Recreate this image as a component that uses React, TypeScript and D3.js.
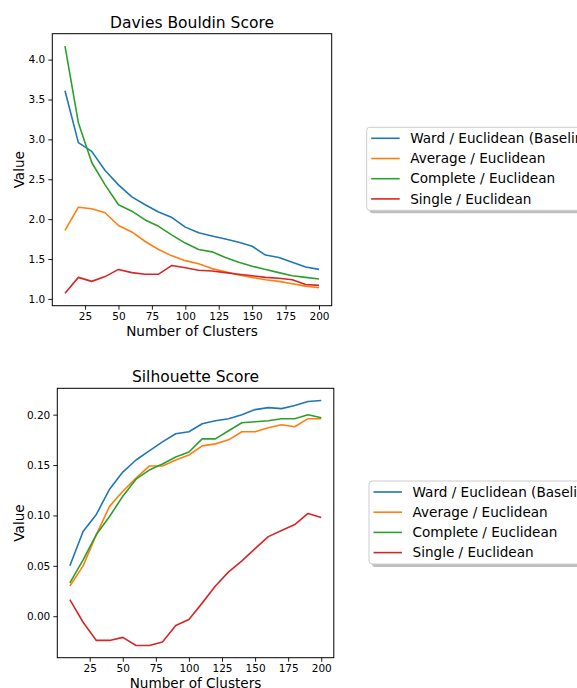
import { useEffect, useRef } from "react";
import * as d3 from "d3";

// number of clusters on the x axis
const clusters = [10, 20, 30, 40, 50, 60, 70, 80, 90, 100, 110, 120, 130, 140, 150, 160, 170, 180, 190, 200];
const seriesNames = ["Ward / Euclidean (Baseline)", "Average / Euclidean", "Complete / Euclidean", "Single / Euclidean"];
const seriesColors = ["#1f77b4", "#ff7f0e", "#2ca02c", "#d62728"];
const xTicks = [25, 50, 75, 100, 125, 150, 175, 200];

// Davies Bouldin
const dbWard = [3.61, 2.96, 2.85, 2.61, 2.43, 2.28, 2.18, 2.09, 2.02, 1.90, 1.83, 1.79, 1.75, 1.71, 1.66, 1.55, 1.52, 1.46, 1.40, 1.37];
const dbAverage = [1.86, 2.15, 2.13, 2.08, 1.92, 1.84, 1.72, 1.62, 1.54, 1.48, 1.44, 1.38, 1.34, 1.30, 1.27, 1.24, 1.22, 1.19, 1.16, 1.14];
const dbComplete = [4.17, 3.21, 2.71, 2.43, 2.18, 2.10, 1.99, 1.91, 1.80, 1.70, 1.62, 1.59, 1.52, 1.46, 1.41, 1.37, 1.33, 1.29, 1.27, 1.25];
const dbSingle = [1.07, 1.27, 1.22, 1.28, 1.37, 1.33, 1.31, 1.31, 1.42, 1.39, 1.36, 1.35, 1.33, 1.31, 1.29, 1.27, 1.26, 1.24, 1.18, 1.17];
const dbTicks = [1.0, 1.5, 2.0, 2.5, 3.0, 3.5, 4.0];

// Silhouette
const silWard = [0.050, 0.084, 0.101, 0.126, 0.143, 0.155, 0.164, 0.173, 0.181, 0.183, 0.191, 0.194, 0.196, 0.200, 0.205, 0.207, 0.206, 0.209, 0.213, 0.214];
const silAverage = [0.030, 0.050, 0.081, 0.109, 0.124, 0.137, 0.149, 0.149, 0.155, 0.160, 0.169, 0.171, 0.175, 0.183, 0.183, 0.187, 0.190, 0.188, 0.196, 0.196];
const silComplete = [0.033, 0.056, 0.081, 0.099, 0.119, 0.136, 0.145, 0.151, 0.158, 0.163, 0.176, 0.176, 0.184, 0.192, 0.193, 0.194, 0.196, 0.196, 0.200, 0.197];
const silSingle = [0.0165, -0.006, -0.024, -0.024, -0.021, -0.029, -0.029, -0.0255, -0.0093, -0.0033, 0.013, 0.030, 0.044, 0.055, 0.067, 0.079, 0.085, 0.091, 0.102, 0.098];
const silTicks = [0.0, 0.05, 0.1, 0.15, 0.2];

const FONT = "DejaVu Sans";

const padded = (vals: number[]) => {
    const [lo, hi] = d3.extent(vals) as [number, number];
    const m = (hi - lo) * 0.05;
    return [lo - m, hi + m];
};

const drawPanel = (svg: any, cfg: any) => {
    const x = d3.scaleLinear().domain(padded(clusters)).range([cfg.left, cfg.right]);
    const y = d3.scaleLinear().domain(padded(cfg.series.flat())).range([cfg.bottom, cfg.top]);

    const line = d3.line<number>()
        .x((d, i) => x(clusters[i]))
        .y(d => y(d));

    cfg.series.forEach((s: number[], i: number) => {
        svg.append("path")
            .attr("d", line(s))
            .attr("fill", "none")
            .attr("stroke", seriesColors[i])
            .attr("stroke-width", 1.6)
            .attr("stroke-linejoin", "round");
    });

    svg.append("rect")
        .attr("x", cfg.left).attr("y", cfg.top)
        .attr("width", cfg.right - cfg.left).attr("height", cfg.bottom - cfg.top)
        .attr("fill", "none").attr("stroke", "#000").attr("stroke-width", 1);

    const xa = svg.append("g")
        .attr("transform", `translate(0,${cfg.bottom})`)
        .call(d3.axisBottom(x).tickValues(xTicks).tickSize(4).tickPadding(3).tickFormat(d3.format("d")));
    const ya = svg.append("g")
        .attr("transform", `translate(${cfg.left},0)`)
        .call(d3.axisLeft(y).tickValues(cfg.yTicks).tickSize(4).tickPadding(3).tickFormat(d3.format(cfg.yFormat)));
    [xa, ya].forEach(a => {
        a.select(".domain").remove();
        a.selectAll("text").attr("font-family", FONT).attr("font-size", 10.5).attr("fill", "#000");
        a.selectAll("line").attr("stroke", "#000").attr("stroke-width", 0.9);
    });

    const cx = (cfg.left + cfg.right) / 2;
    svg.append("text")
        .attr("x", cx).attr("y", cfg.top - 6)
        .attr("text-anchor", "middle")
        .attr("font-family", FONT).attr("font-size", 15.5)
        .text(cfg.title);
    svg.append("text")
        .attr("x", cx).attr("y", cfg.bottom + 30)
        .attr("text-anchor", "middle")
        .attr("font-family", FONT).attr("font-size", 13.6)
        .text("Number of Clusters");
    svg.append("text")
        .attr("transform", `translate(23.5,${(cfg.top + cfg.bottom) / 2}) rotate(-90)`)
        .attr("text-anchor", "middle")
        .attr("font-family", FONT).attr("font-size", 13.6)
        .text("Value");

    // legend with shadow
    const lg = svg.append("g").attr("transform", `translate(${cfg.legendX},${cfg.legendY})`);
    lg.append("rect")
        .attr("x", 3).attr("y", 3).attr("width", 240).attr("height", 83).attr("rx", 3)
        .attr("fill", "#808080").attr("opacity", 0.5);
    lg.append("rect")
        .attr("x", 0).attr("y", 0).attr("width", 240).attr("height", 83).attr("rx", 3)
        .attr("fill", "#fff").attr("stroke", "#cccccc").attr("stroke-width", 1);
    seriesNames.forEach((name, i) => {
        const ry = 11 + i * 20.2;
        lg.append("line")
            .attr("x1", 4.5).attr("x2", 33).attr("y1", ry).attr("y2", ry)
            .attr("stroke", seriesColors[i]).attr("stroke-width", 1.6);
        lg.append("text")
            .attr("x", 43.5).attr("y", ry).attr("dy", "0.35em")
            .attr("font-family", FONT).attr("font-size", 13.6)
            .text(name);
    });
};

const App = () => {
    const ref = useRef<SVGSVGElement>(null);

    useEffect(() => {
        const svg = d3.select(ref.current);
        svg.selectAll("*").remove();
        drawPanel(svg, {
            left: 52.3, right: 331.7, top: 33.7, bottom: 305.7,
            title: "Davies Bouldin Score",
            series: [dbWard, dbAverage, dbComplete, dbSingle],
            yTicks: dbTicks, yFormat: ".1f",
            legendX: 366.7, legendY: 127.3
        });
        drawPanel(svg, {
            left: 57.3, right: 333.8, top: 388.3, bottom: 657.7,
            title: "Silhouette Score",
            series: [silWard, silAverage, silComplete, silSingle],
            yTicks: silTicks, yFormat: ".2f",
            legendX: 369, legendY: 481
        });
    }, []);

    return (
        <svg ref={ref} width={577} height={688}
             style={{position: "absolute", left: 0, top: 0, background: "#fff"}}/>
    );
};

export default App;
